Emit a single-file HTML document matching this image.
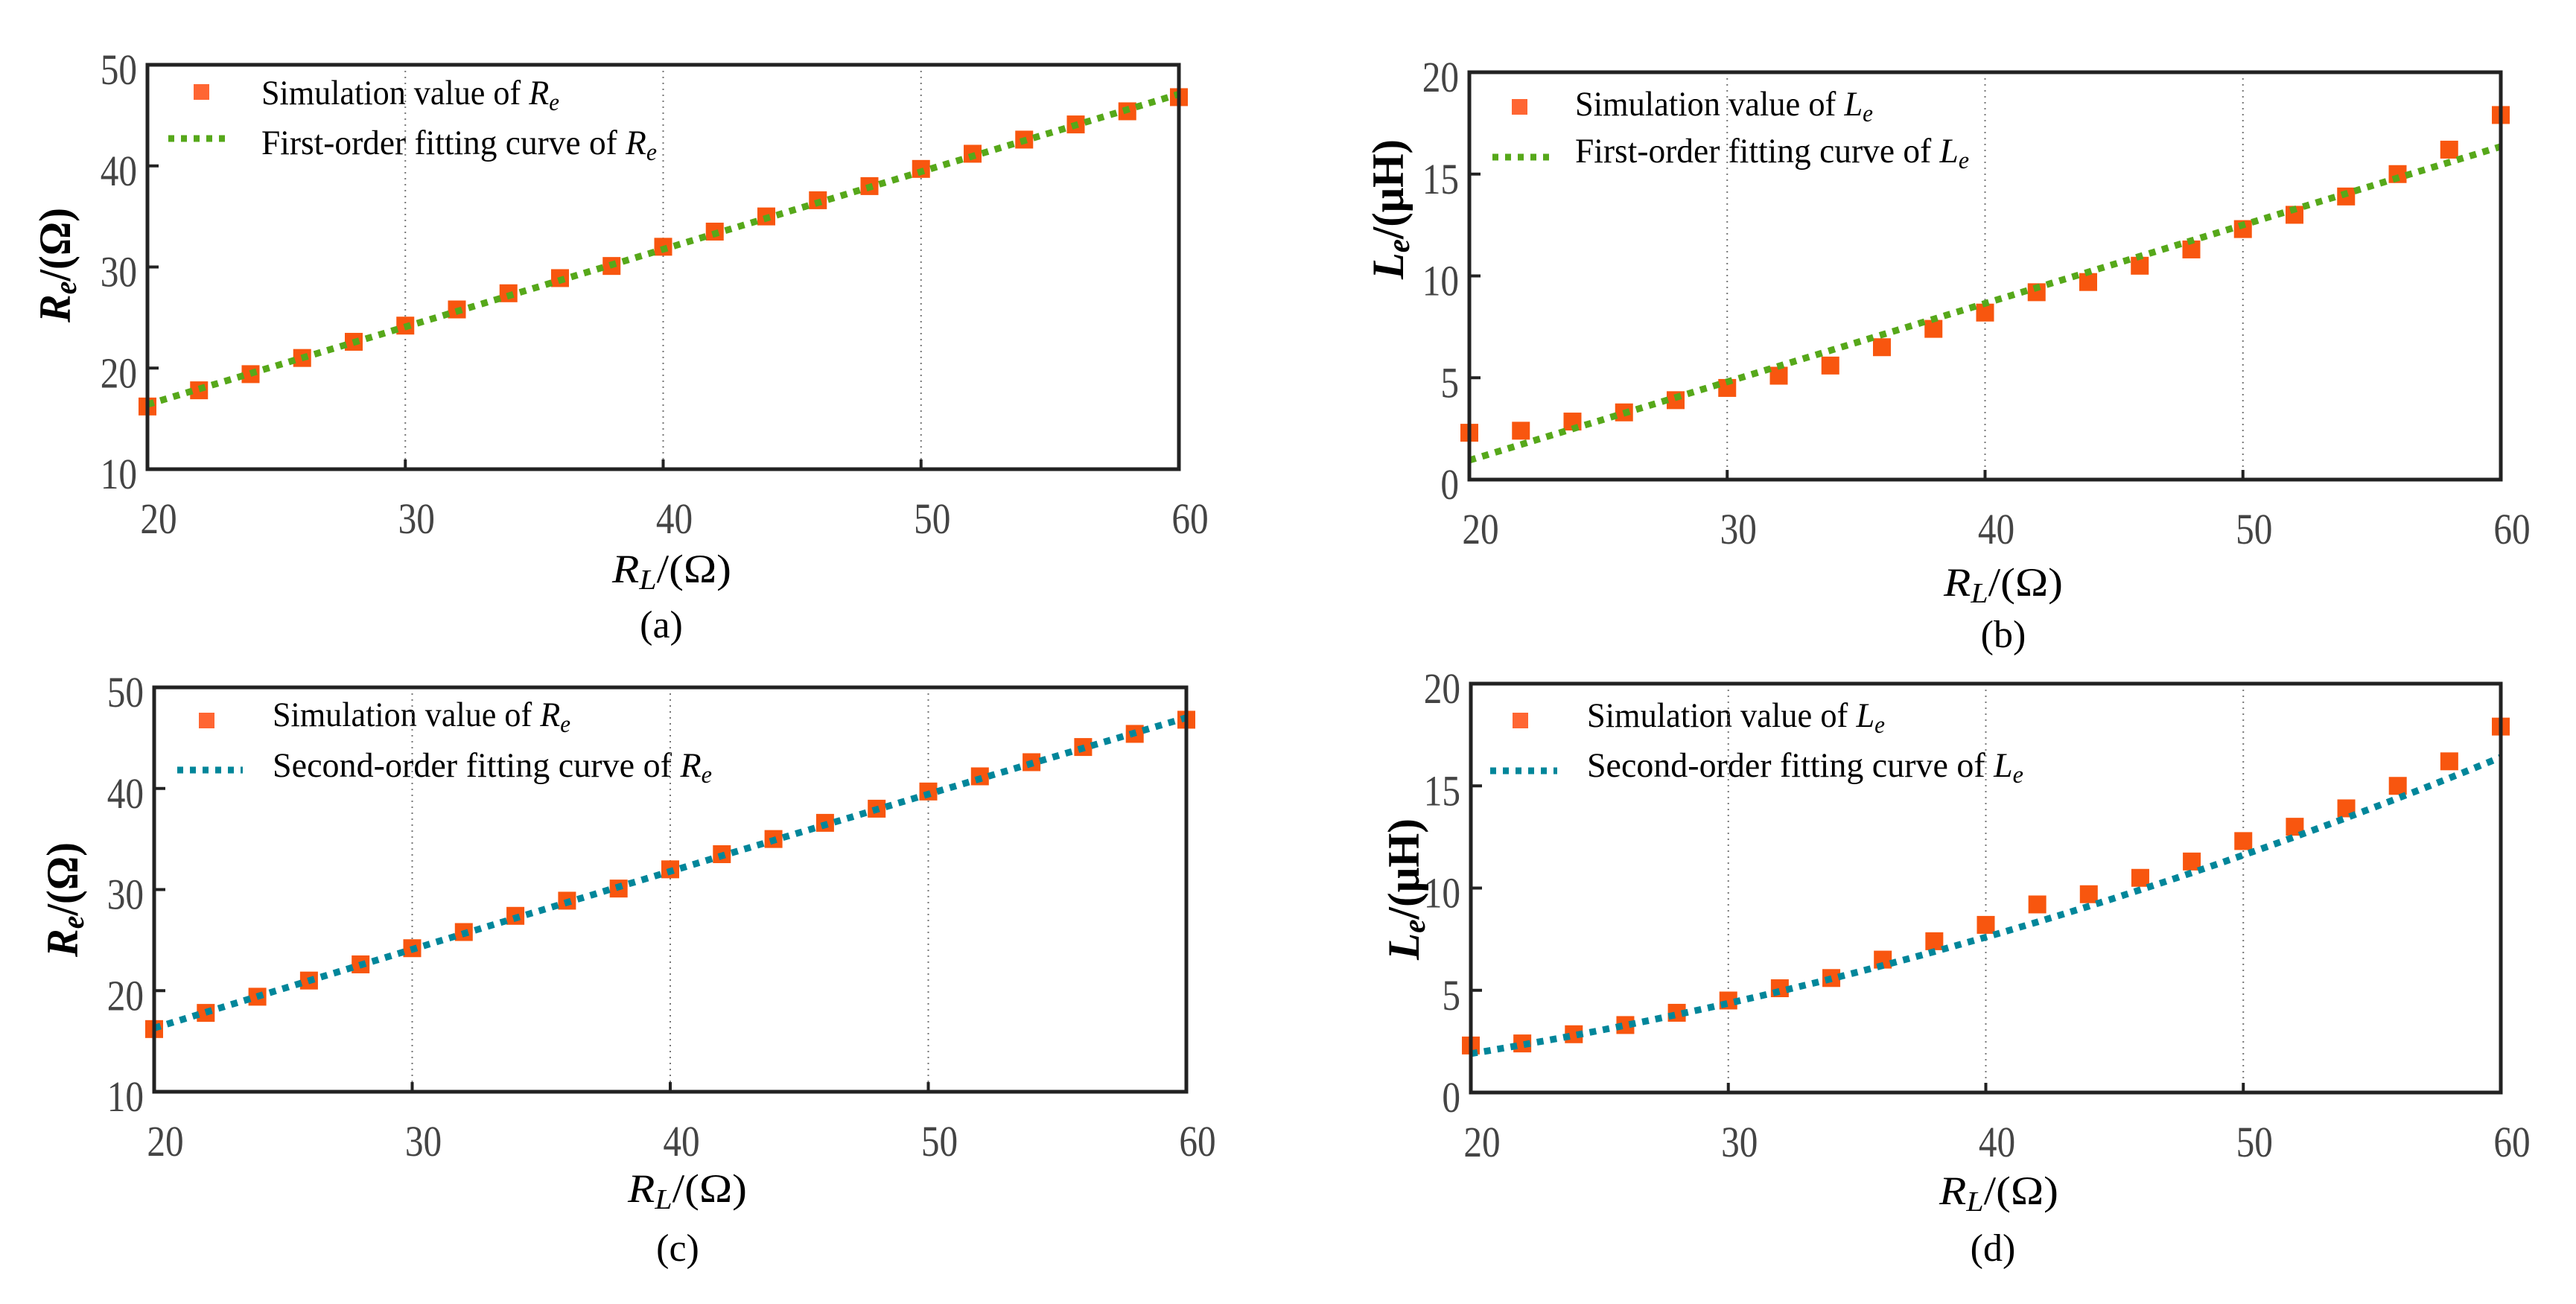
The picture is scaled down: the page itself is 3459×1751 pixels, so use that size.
<!DOCTYPE html>
<html><head><meta charset="utf-8"><style>
html,body{margin:0;padding:0;background:#fff;}
svg, svg text, svg tspan{font-family:"Liberation Serif",serif !important;}
</style></head><body>
<svg id="fig" width="3459" height="1746" viewBox="0 0 3459 1746" xmlns="http://www.w3.org/2000/svg" font-family="Liberation Serif, serif">
<rect x="0" y="0" width="3459" height="1746" fill="#fff"/>

<!-- Panel a text -->
<g>
  <rect x="260" y="113" width="21" height="21" fill="#ff6633"/>
  <line x1="226" y1="186" x2="311" y2="186" stroke="#56a81a" stroke-width="9" stroke-dasharray="8 9"/>
  <text x="351" y="140" font-size="47" textLength="400" lengthAdjust="spacingAndGlyphs">Simulation value of <tspan font-style="italic">R</tspan><tspan font-style="italic" font-size="33" dy="8">e</tspan></text>
  <text x="351" y="207" font-size="47" textLength="531" lengthAdjust="spacingAndGlyphs">First-order fitting curve of  <tspan font-style="italic">R</tspan><tspan font-style="italic" font-size="33" dy="8">e</tspan></text>
</g>
<text transform="translate(94,356) rotate(-90)" text-anchor="middle" font-size="60" font-weight="bold" textLength="154" lengthAdjust="spacingAndGlyphs"><tspan font-style="italic">R</tspan><tspan font-style="italic" font-size="42" dy="8">e</tspan><tspan dy="-8">/(Ω)</tspan></text>
<text x="902" y="782" text-anchor="middle" font-size="54" textLength="160" lengthAdjust="spacingAndGlyphs"><tspan font-style="italic">R</tspan><tspan font-style="italic" font-size="38" dy="9">L</tspan><tspan dy="-9">/(Ω)</tspan></text>
<text x="888" y="856" text-anchor="middle" font-size="52">(a)</text>

<!-- Panel b text -->
<g>
  <rect x="2030" y="133" width="21" height="21" fill="#ff6633"/>
  <line x1="2004" y1="211" x2="2088" y2="211" stroke="#56a81a" stroke-width="9" stroke-dasharray="8 9"/>
  <text x="2115" y="155" font-size="47" textLength="400" lengthAdjust="spacingAndGlyphs">Simulation value of <tspan font-style="italic">L</tspan><tspan font-style="italic" font-size="33" dy="8">e</tspan></text>
  <text x="2115" y="218" font-size="47" textLength="529" lengthAdjust="spacingAndGlyphs">First-order fitting curve of  <tspan font-style="italic">L</tspan><tspan font-style="italic" font-size="33" dy="8">e</tspan></text>
</g>
<text transform="translate(1884,281) rotate(-90)" text-anchor="middle" font-size="60" font-weight="bold" textLength="188" lengthAdjust="spacingAndGlyphs"><tspan font-style="italic">L</tspan><tspan font-style="italic" font-size="42" dy="8">e</tspan><tspan dy="-8">/(μH)</tspan></text>
<text x="2690" y="800" text-anchor="middle" font-size="54" textLength="160" lengthAdjust="spacingAndGlyphs"><tspan font-style="italic">R</tspan><tspan font-style="italic" font-size="38" dy="9">L</tspan><tspan dy="-9">/(Ω)</tspan></text>
<text x="2690" y="869" text-anchor="middle" font-size="52">(b)</text>

<!-- Panel c text -->
<g>
  <rect x="267" y="957" width="21" height="21" fill="#ff6633"/>
  <line x1="238" y1="1034" x2="326" y2="1034" stroke="#00869a" stroke-width="9" stroke-dasharray="8 9"/>
  <text x="366" y="975" font-size="47" textLength="400" lengthAdjust="spacingAndGlyphs">Simulation value of <tspan font-style="italic">R</tspan><tspan font-style="italic" font-size="33" dy="8">e</tspan></text>
  <text x="366" y="1043" font-size="47" textLength="590" lengthAdjust="spacingAndGlyphs">Second-order fitting curve of  <tspan font-style="italic">R</tspan><tspan font-style="italic" font-size="33" dy="8">e</tspan></text>
</g>
<text transform="translate(104,1208) rotate(-90)" text-anchor="middle" font-size="60" font-weight="bold" textLength="154" lengthAdjust="spacingAndGlyphs"><tspan font-style="italic">R</tspan><tspan font-style="italic" font-size="42" dy="8">e</tspan><tspan dy="-8">/(Ω)</tspan></text>
<text x="923" y="1614" text-anchor="middle" font-size="54" textLength="160" lengthAdjust="spacingAndGlyphs"><tspan font-style="italic">R</tspan><tspan font-style="italic" font-size="38" dy="9">L</tspan><tspan dy="-9">/(Ω)</tspan></text>
<text x="910" y="1693" text-anchor="middle" font-size="52">(c)</text>

<!-- Panel d text -->
<g>
  <rect x="2031" y="957" width="21" height="21" fill="#ff6633"/>
  <line x1="2001" y1="1035" x2="2091" y2="1035" stroke="#00869a" stroke-width="9" stroke-dasharray="8 9"/>
  <text x="2131" y="976" font-size="47" textLength="400" lengthAdjust="spacingAndGlyphs">Simulation value of <tspan font-style="italic">L</tspan><tspan font-style="italic" font-size="33" dy="8">e</tspan></text>
  <text x="2131" y="1043" font-size="47" textLength="586" lengthAdjust="spacingAndGlyphs">Second-order fitting curve of  <tspan font-style="italic">L</tspan><tspan font-style="italic" font-size="33" dy="8">e</tspan></text>
</g>
<text transform="translate(1905,1194) rotate(-90)" text-anchor="middle" font-size="60" font-weight="bold" textLength="190" lengthAdjust="spacingAndGlyphs"><tspan font-style="italic">L</tspan><tspan font-style="italic" font-size="42" dy="8">e</tspan><tspan dy="-8">/(μH)</tspan></text>
<text x="2684" y="1617" text-anchor="middle" font-size="54" textLength="160" lengthAdjust="spacingAndGlyphs"><tspan font-style="italic">R</tspan><tspan font-style="italic" font-size="38" dy="9">L</tspan><tspan dy="-9">/(Ω)</tspan></text>
<text x="2676" y="1693" text-anchor="middle" font-size="52">(d)</text>
</svg>
<script>
// ---- data ----
const xValues = [20,22,24,26,28,30,32,34,36,38,40,42,44,46,48,50,52,54,56,58,60];
const reValues = [16.2,17.8,19.4,21.0,22.6,24.2,25.8,27.4,28.9,30.1,32.0,33.5,35.0,36.6,38.0,39.7,41.2,42.6,44.1,45.4,46.8];
const leValues = [2.3,2.4,2.85,3.3,3.9,4.5,5.1,5.6,6.5,7.4,8.2,9.2,9.7,10.5,11.3,12.3,13.0,13.9,15.0,16.2,17.9];
// fit coefficients in t=(x-40)/20 : c0 + c1*t + c2*t^2
const reFirstOrder = [31.75, 15.35, 0];
const leFirstOrder = [8.65, 7.7, 0];
const reSecondOrder = [31.8, 15.35, -0.15];
const leSecondOrder = [7.6, 7.25, 1.55];
const xTickLabels = ["20","30","40","50","60"];
const reTickLabels = ["10","20","30","40","50"];
const leTickLabels = ["0","5","10","15","20"];

const NS = "http://www.w3.org/2000/svg";
const svg = document.getElementById("fig");
const panels = [
  {id:"a", L:198, R:1583, T:87, B:630, ymin:10, ymax:50, ys:reValues, fit:reFirstOrder, ticks:reTickLabels, color:"#56a81a"},
  {id:"b", L:1973, R:3358, T:97, B:644, ymin:0, ymax:20, ys:leValues, fit:leFirstOrder, ticks:leTickLabels, color:"#56a81a"},
  {id:"c", L:207, R:1593, T:923, B:1466, ymin:10, ymax:50, ys:reValues, fit:reSecondOrder, ticks:reTickLabels, color:"#00869a"},
  {id:"d", L:1975, R:3358, T:918, B:1467, ymin:0, ymax:20, ys:leValues, fit:leSecondOrder, ticks:leTickLabels, color:"#00869a"}
];
function mk(tag, attrs){const e=document.createElementNS(NS,tag);for(const k in attrs)e.setAttribute(k,attrs[k]);return e;}

panels.forEach(p=>{
  const sx = v => p.L + (v-20)/(60-20)*(p.R-p.L);
  const sy = v => p.B - (v-p.ymin)/(p.ymax-p.ymin)*(p.B-p.T);
  const g = mk("g",{});
  
  
  svg.appendChild(g);
  [30,40,50].forEach(v=>{
    const gl = mk("line",{x1:sx(v),x2:sx(v),y1:p.T,y2:p.B,stroke:"#777","stroke-width":2,"stroke-dasharray":"2 6"});
    
    
    g.appendChild(gl);
    const tk = mk("line",{x1:sx(v),x2:sx(v),y1:p.B,y2:p.B-13,stroke:"#222","stroke-width":4});
    
    
    g.appendChild(tk);
  });
  p.ticks.forEach(lbl=>{
    const v = parseFloat(lbl), y = sy(v);
    const tk = mk("line",{x1:p.L,x2:p.L+15,y1:y,y2:y,stroke:"#222","stroke-width":4});
    
    
    g.appendChild(tk);
    const t = mk("text",{transform:`translate(${p.L-14},${y+26}) scale(0.85,1)`,"text-anchor":"end","font-size":58,fill:"#444","font-family":"Liberation Serif, serif"});
    
    
    t.textContent = lbl;
    g.appendChild(t);
  });
  xTickLabels.forEach(lbl=>{
    const v = parseFloat(lbl);
    const t = mk("text",{transform:`translate(${sx(v)+15},${p.B+86}) scale(0.85,1)`,"text-anchor":"middle","font-size":58,fill:"#444","font-family":"Liberation Serif, serif"});
    
    
    t.textContent = lbl;
    g.appendChild(t);
  });
  xValues.forEach((xv,i)=>{
    const m = mk("rect",{x:sx(xv)-12,y:sy(p.ys[i])-12,width:24,height:24,fill:"#f8560f"});
    
    
    g.appendChild(m);
  });
  let d = "";
  for(let k=0;k<=80;k++){
    const xv = 20 + k*0.5, t=(xv-40)/20;
    const yv = p.fit[0]+p.fit[1]*t+p.fit[2]*t*t;
    d += (k?"L":"M")+sx(xv).toFixed(1)+","+sy(yv).toFixed(1);
  }
  const path = mk("path",{d:d,fill:"none",stroke:p.color,"stroke-width":9,"stroke-dasharray":"9 9"});
  
  
  g.appendChild(path);
  const fr = mk("rect",{x:p.L,y:p.T,width:p.R-p.L,height:p.B-p.T,fill:"none",stroke:"#222","stroke-width":5});
  
  
  g.appendChild(fr);
});
</script>
</body></html>
